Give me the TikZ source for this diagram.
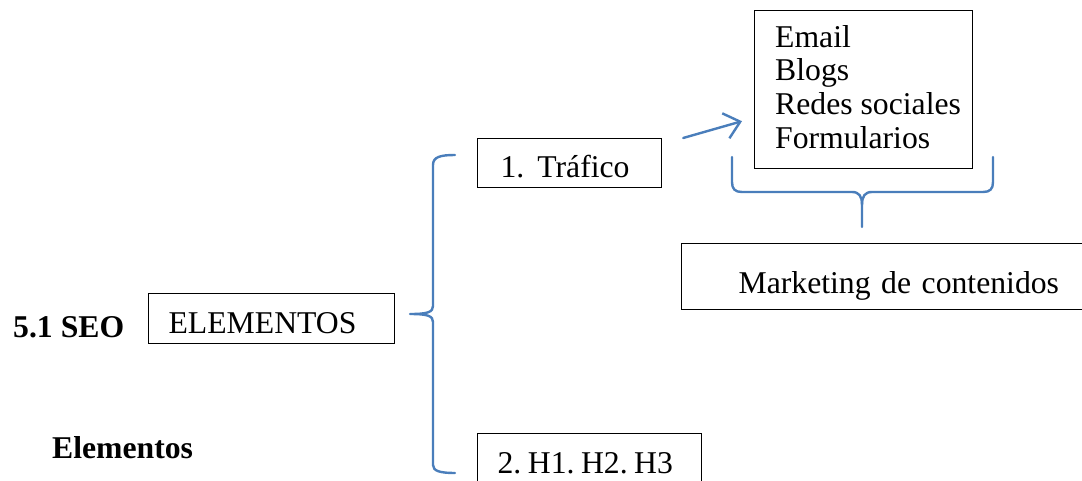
\documentclass[tikz,border=0pt]{standalone}
\usepackage{fontspec}
\setmainfont{Liberation Serif}
\usetikzlibrary{arrows.meta}
\definecolor{braceblue}{RGB}{74,126,187}
\newcommand\diafont{\fontsize{31.7}{33.7}\selectfont\frenchspacing}
\begin{document}
\begin{tikzpicture}[x=1pt,y=-1pt,
  every node/.style={font=\diafont},
  box/.style={draw=black, line width=1.2pt, inner ysep=0pt, align=left},
  brace/.style={draw=braceblue, line width=2.4pt, line cap=round, line join=round},
  arr/.style={draw=braceblue, line width=2.4pt, line cap=round, -{Straight Barb[length=15pt,width=26pt]}},
  lbl/.style={inner sep=0pt, font=\diafont\bfseries}]
\clip (0,0) rectangle (1082,480);
% boxes
\node[box, anchor=north west, inner xsep=20pt, text width=206pt, text height=40pt, text depth=10pt] (elem) at (148,293) {\mbox{ELEMENTOS}};
\node[box, anchor=north west, inner xsep=23pt, text width=138pt, text height=39pt, text depth=10pt] (traf) at (477,138) {\mbox{1.\hspace{13pt}Tráfico}};
\node[box, anchor=north west, minimum width=218pt, minimum height=158pt] (email) at (754,10) {};
\node[anchor=base west, inner sep=0pt] (list) at (775,47) {\vtop{\hbox{Email}\hbox{Blogs}\hbox{Redes sociales}\hbox{Formularios}}};
\node[box, anchor=north west, inner xsep=57pt, text width=326pt, text height=50pt, text depth=16pt] (mkt) at (681,243) {\mbox{Marketing de contenidos}};
\node[box, anchor=north west, inner xsep=20pt, text width=184pt, text height=40pt, text depth=9pt] (hs) at (477,433) {\mbox{2.\hspace{6.5pt}H1.\hspace{6.5pt}H2.\hspace{6.5pt}H3}};
% labels
\node[lbl, anchor=base west] (seo) at (13,337) {5.1 SEO};
\node[lbl, anchor=base west] (elemtxt) at (52,458) {Elementos};
% left brace
\draw[brace] (455,155) .. controls (440,155) and (433,157) .. (433,165) -- (433,306)
  .. controls (433,312) and (428,314) .. (410,314)
  .. controls (428,314) and (433,316) .. (433,322) -- (433,465)
  .. controls (433,471) and (440,473) .. (455,473);
% bottom brace
\draw[brace] (732,157) -- (732,182) .. controls (732,189) and (735,192) .. (742,192) -- (852,192)
  .. controls (859,192) and (862,196) .. (862,205) -- (862,227);
\draw[brace] (862,205) .. controls (862,196) and (865,192) .. (872,192) -- (983,192)
  .. controls (990,192) and (993,189) .. (993,182) -- (993,157);
% arrow
\draw[arr] ([shift={(21,0)}]traf.north east) -- ([shift={(-12,-48)}]email.south west);
\end{tikzpicture}
\end{document}
